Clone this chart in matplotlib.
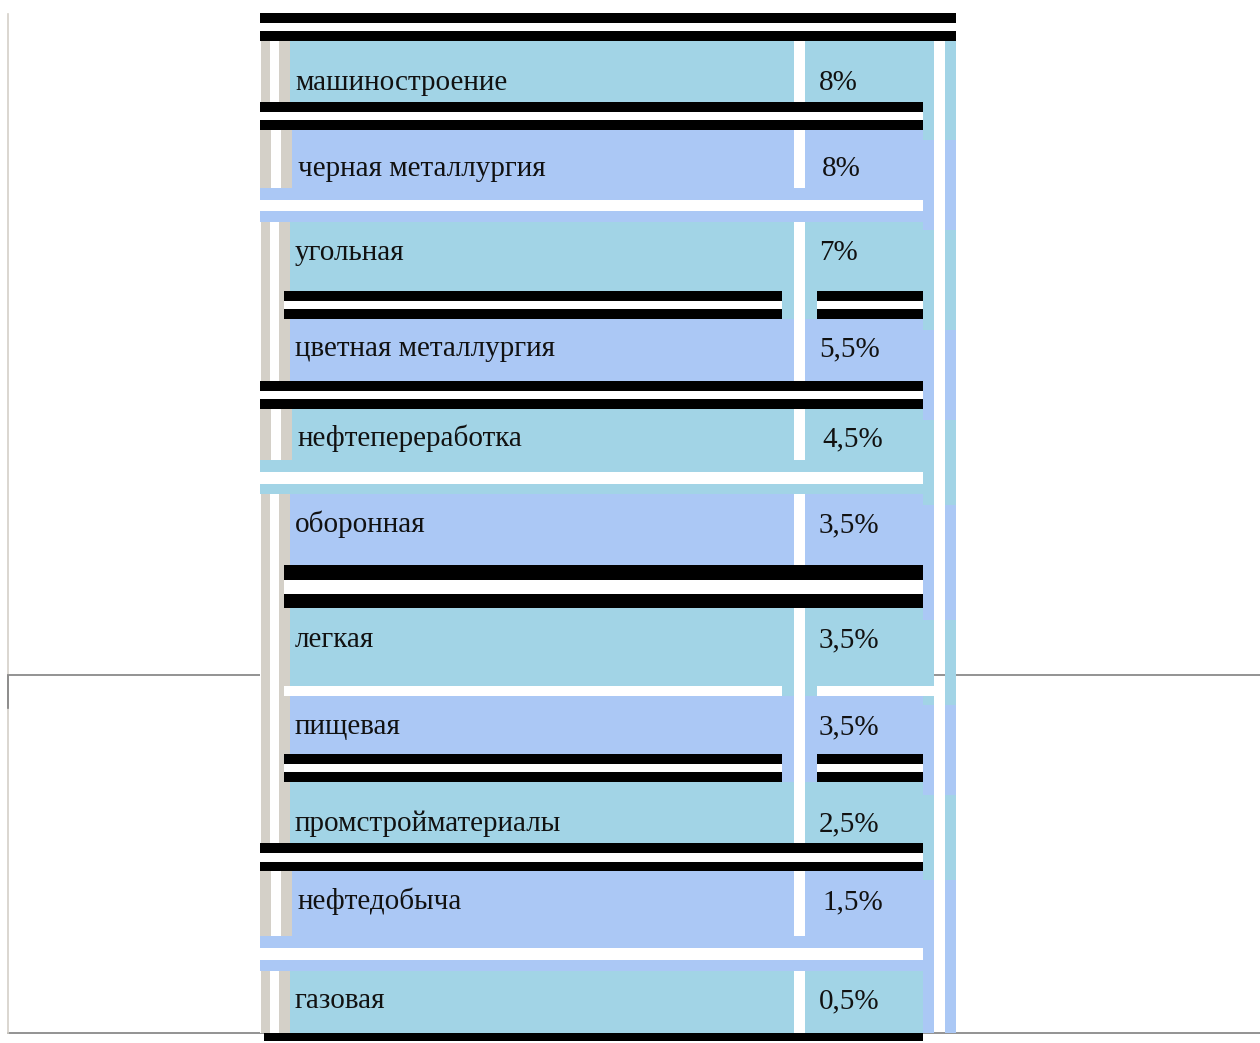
import matplotlib
matplotlib.use("Agg")
import matplotlib.pyplot as plt
from matplotlib.patches import Rectangle

# ── data ───────────────────────────────────────────────────────────────────
categories = ["машиностроение", "черная металлургия", "угольная",
              "цветная металлургия", "нефтепереработка", "оборонная",
              "легкая", "пищевая", "промстройматериалы", "нефтедобыча",
              "газовая"]
shares = [8, 8, 7, 5.5, 4.5, 3.5, 3.5, 3.5, 2.5, 1.5, 0.5]

# ── layout (pixel coords of the rendered table) ───────────────────────────
W, H = 1260, 1043
CYAN, BLUE, GRAY = "#A2D4E6", "#ABC8F5", "#D4D0C8"
row_top = [41, 130, 222, 319, 409, 494, 608, 696, 782, 871, 971]
baseline = [90, 176, 260, 356, 446, 532, 647, 734, 831, 909, 1008]
gap_rows = {1: 200, 4: 472, 9: 948}        # rows closed by a white gap
ext_edges = [41, 140, 230, 330, 420, 505, 620, 705, 795, 880, 1033]
BOTTOM = 1033
X0, XDIV0, XDIV1, X1 = 260, 794, 805, 923

# double rules: (top, bottom, upper bar height, lower bar height, x segments)
double_rules = [
    (13, 41, 10, 10, [(260, 956)]),
    (102, 130, 10, 10, [(260, 923)]),
    (291, 319, 10, 10, [(284, 782), (817, 923)]),
    (381, 409, 10, 10, [(260, 923)]),
    (565, 608, 15, 14, [(284, 923)]),
    (754, 782, 10, 10, [(284, 782), (817, 923)]),
    (843, 871, 10, 9, [(260, 923)]),
]
# single bars: (y0, y1, x0, x1, colour)
single_bars = [
    (200, 211, 260, 923, "white"),
    (472, 484, 260, 923, "white"),
    (686, 696, 284, 782, "white"), (686, 696, 817, 934, "white"),
    (948, 960, 260, 923, "white"),
    (1033, 1041, 264, 923, "black"),
]


def box(ax, x0, x1, y0, y1, color, z=1):
    ax.add_patch(Rectangle((x0, y0), x1 - x0, y1 - y0, facecolor=color,
                           edgecolor="none", linewidth=0, zorder=z,
                           antialiased=False))


fig = plt.figure(figsize=(W / 100, H / 100), dpi=100)
ax = fig.add_axes([0, 0, 1, 1])
ax.set_xlim(0, W)
ax.set_ylim(H, 0)
ax.axis("off")

# thin page lines behind the table
ax.plot([8, W], [675, 675], color="#808080", lw=1.2, zorder=0)
ax.plot([8, W], [BOTTOM, BOTTOM], color="#808080", lw=1.2, zorder=0)
ax.plot([8, 8], [14, BOTTOM], color=GRAY, lw=1.2, zorder=0)
ax.plot([8, 8], [675, 708], color="#808080", lw=1.2, zorder=0)

n = len(categories)
for i, (cat, val) in enumerate(zip(categories, shares)):
    color = CYAN if i % 2 == 0 else BLUE
    y0 = row_top[i]
    y1 = row_top[i + 1] if i + 1 < n else BOTTOM
    if i in gap_rows:
        inner, dx, s1, s2 = gap_rows[i] - 12, 3, (260, 271), (281, 292)
    else:
        inner, dx, s1, s2 = y1, 0, (261, 270), (279, 290)
    box(ax, X0, X1, y0, y1, color)
    # left gutter strips
    box(ax, X0, s2[1], y0, inner, "white", 2)
    box(ax, s1[0], s1[1], y0, inner, GRAY, 2)
    box(ax, s2[0], s2[1], y0, inner, GRAY, 2)
    # column divider
    box(ax, XDIV0, XDIV1, y0, inner, "white", 2)
    ax.text(295 + dx, baseline[i], cat, fontsize=21,
            family="Liberation Serif", color="#111111",
            va="baseline", ha="left", zorder=5)
    ax.text(819 + dx, baseline[i], f"{val:g}".replace(".", ",") + "%",
            fontsize=21, family="Liberation Serif", color="#111111",
            va="baseline", ha="left", zorder=5)

# right-hand extension strips
for j in range(len(ext_edges) - 1):
    color = CYAN if j % 2 == 0 else BLUE
    box(ax, X1, 934, ext_edges[j], ext_edges[j + 1], color, 3)
    box(ax, 945, 956, ext_edges[j], ext_edges[j + 1], color, 3)

for top, bot, h1, h2, segs in double_rules:
    for x0, x1 in segs:
        box(ax, x0, x1, top, bot, "white", 4)
        box(ax, x0, x1, top, top + h1, "black", 4)
        box(ax, x0, x1, bot - h2, bot, "black", 4)

for y0, y1, x0, x1, c in single_bars:
    box(ax, x0, x1, y0, y1, c, 4)

fig.savefig("out.png", dpi=100)
